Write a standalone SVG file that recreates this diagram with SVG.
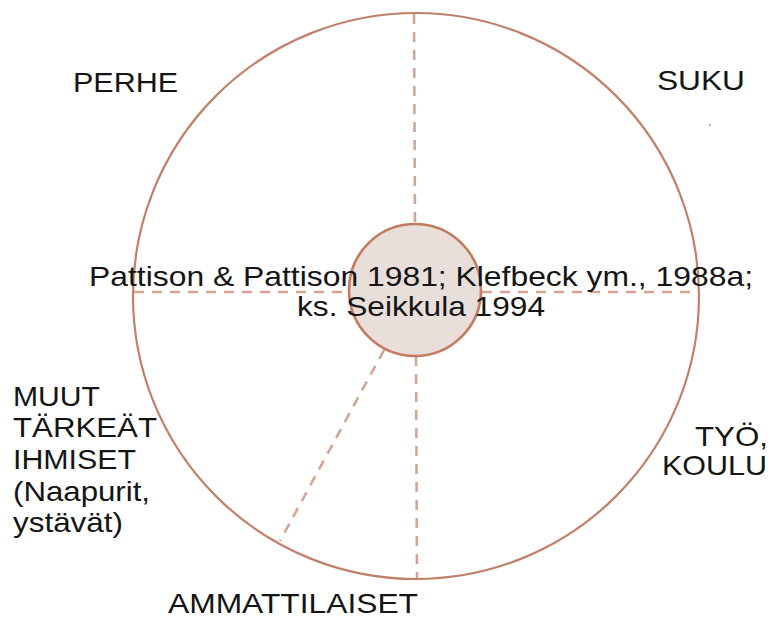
<svg xmlns="http://www.w3.org/2000/svg" width="773" height="619" viewBox="0 0 773 619">
  <style>
    .lbl { font-family: "Liberation Sans", Arial, sans-serif; font-size: 28.5px; fill: #151515; }
    .ring { fill: none; stroke: #c0806a; stroke-width: 2.2; }
    .div { fill: none; stroke: #d5a594; stroke-width: 2.6; stroke-dasharray: 10 8; }
    .hub { fill: #e8dfdb; stroke: #c27b5f; stroke-width: 2.6; }
  </style>
  <rect width="773" height="619" fill="#ffffff"/>
  <g id="outer-circle">
    <circle class="ring" cx="416" cy="296" r="283"/>
  </g>
  <g id="connectors">
    <line class="div" x1="414" y1="14" x2="415" y2="225"/>
    <line class="div" x1="416" y1="356" x2="417" y2="578"/>
    <line class="div" x1="134" y1="292" x2="349" y2="292"/>
    <line class="div" x1="482" y1="292" x2="698" y2="292"/>
    <line class="div" x1="384" y1="350" x2="280" y2="541"/>
  </g>
  <g id="center">
    <circle class="hub" cx="415" cy="290" r="66"/>
    <text class="lbl" x="421" y="286" text-anchor="middle" textLength="664" lengthAdjust="spacingAndGlyphs">Pattison &amp; Pattison 1981; Klefbeck ym., 1988a;</text>
    <text class="lbl" x="421" y="316" text-anchor="middle" textLength="248" lengthAdjust="spacingAndGlyphs">ks. Seikkula 1994</text>
  </g>
  <g id="perhe">
    <text class="lbl" x="73" y="92" textLength="105" lengthAdjust="spacingAndGlyphs">PERHE</text>
  </g>
  <g id="suku">
    <text class="lbl" x="657" y="90" textLength="88" lengthAdjust="spacingAndGlyphs">SUKU</text>
    <circle cx="710" cy="125" r="1" fill="#999999"/>
  </g>
  <g id="tyo-koulu">
    <text class="lbl" x="695" y="446" textLength="73" lengthAdjust="spacingAndGlyphs">TYÖ,</text>
    <text class="lbl" x="662" y="475" textLength="105" lengthAdjust="spacingAndGlyphs">KOULU</text>
  </g>
  <g id="ammattilaiset">
    <text class="lbl" x="168" y="613" textLength="250" lengthAdjust="spacingAndGlyphs">AMMATTILAISET</text>
  </g>
  <g id="muut">
    <text class="lbl" x="13" y="406" textLength="87" lengthAdjust="spacingAndGlyphs">MUUT</text>
    <text class="lbl" x="13" y="437" textLength="144" lengthAdjust="spacingAndGlyphs">TÄRKEÄT</text>
    <text class="lbl" x="13" y="469" textLength="123" lengthAdjust="spacingAndGlyphs">IHMISET</text>
    <text class="lbl" x="13" y="501" textLength="137" lengthAdjust="spacingAndGlyphs">(Naapurit,</text>
    <text class="lbl" x="13" y="532" textLength="110" lengthAdjust="spacingAndGlyphs">ystävät)</text>
  </g>
</svg>
